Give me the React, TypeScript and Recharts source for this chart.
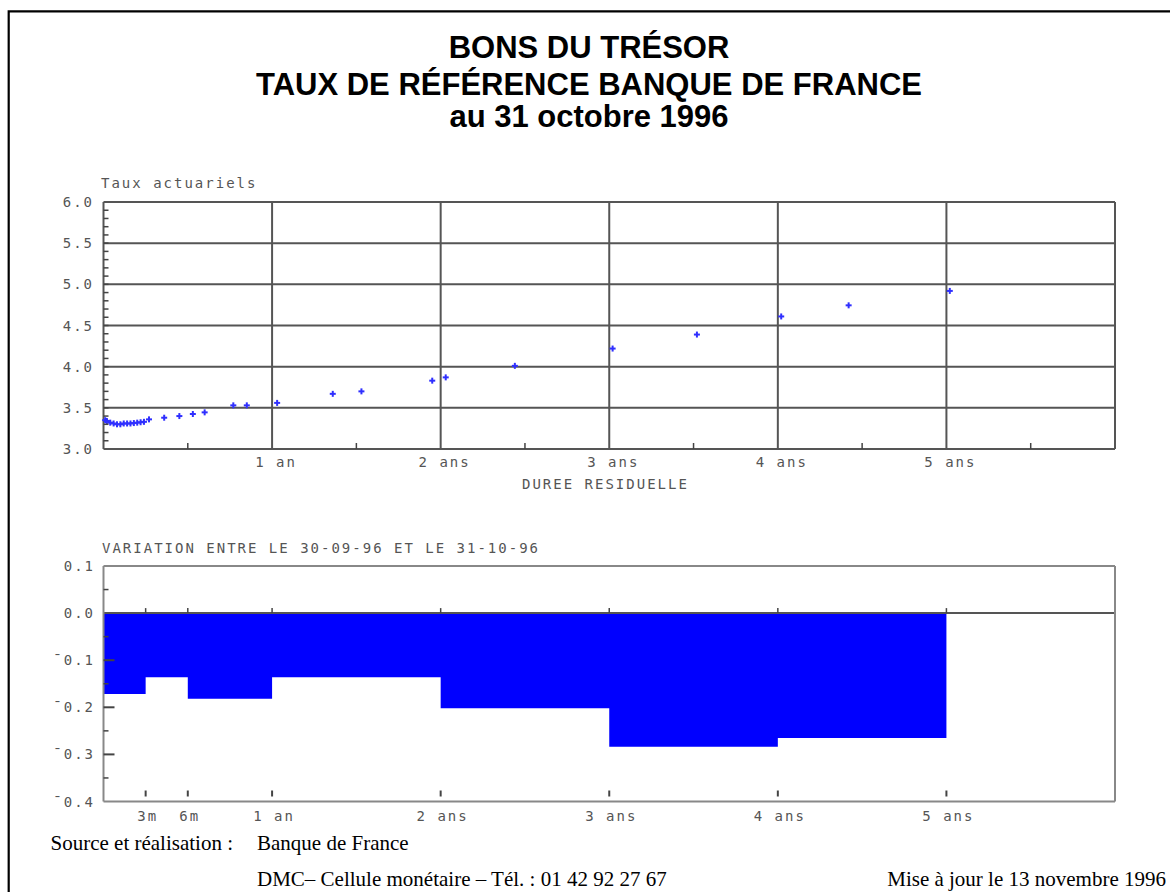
import React from 'react';
import { ScatterChart, Scatter, XAxis, YAxis, ReferenceLine, ComposedChart, Area } from 'recharts';

// ---------- DATA ----------
// Top chart: residual maturity (years) and yield (taux actuariels, %)
const maturities = [0.01, 0.02, 0.04, 0.06, 0.08, 0.10, 0.12, 0.14, 0.16, 0.18, 0.20, 0.22, 0.24, 0.27, 0.36, 0.45, 0.53, 0.60, 0.77, 0.85, 1.03, 1.36, 1.53, 1.95, 2.03, 2.44, 3.02, 3.52, 4.02, 4.42, 5.02];
const rates = [3.35, 3.34, 3.32, 3.31, 3.30, 3.30, 3.31, 3.31, 3.31, 3.315, 3.32, 3.325, 3.33, 3.36, 3.38, 3.40, 3.425, 3.445, 3.53, 3.53, 3.56, 3.67, 3.70, 3.83, 3.87, 4.01, 4.22, 4.39, 4.61, 4.745, 4.92];

// Bottom chart: variation between 30-09-96 and 31-10-96 (step starts, last one closes the step)
const stepStarts = [0, 0.25, 0.5, 1, 2, 3, 4, 5];
const variations = [-0.172, -0.136, -0.182, -0.136, -0.202, -0.284, -0.265, -0.265];

// Tick values / labels
const rateTicks = [3.0, 3.1, 3.2, 3.3, 3.4, 3.5, 3.6, 3.7, 3.8, 3.9, 4.0, 4.1, 4.2, 4.3, 4.4, 4.5, 4.6, 4.7, 4.8, 4.9, 5.0, 5.1, 5.2, 5.3, 5.4, 5.5, 5.6, 5.7, 5.8, 5.9, 6.0];
const rateLabelValues = [3.0, 3.5, 4.0, 4.5, 5.0, 5.5, 6.0];
const rateLabelTexts = ['3.0', '3.5', '4.0', '4.5', '5.0', '5.5', '6.0'];
const rateGrid = [3.5, 4.0, 4.5, 5.0, 5.5];
const rateFrame = [3.0, 6.0];

const yearTicks = [0.5, 1, 1.5, 2, 2.5, 3, 3.5, 4, 4.5, 5, 5.5];
const yearLabelValues = [1, 2, 3, 4, 5];
const yearLabelTexts = ['1 an', '2 ans', '3 ans', '4 ans', '5 ans'];
const yearFrame = [0, 6];

const varTicks = [0.1, 0.05, 0, -0.05, -0.1, -0.15, -0.2, -0.25, -0.3, -0.35, -0.4];
const varLabelValues = [0.1, 0, -0.1, -0.2, -0.3, -0.4];
const varLabelTexts = ['0.1', '0.0', '¯0.1', '¯0.2', '¯0.3', '¯0.4'];
const varMajorTicks = [-0.1, -0.2, -0.3];
const varMinorTicks = [0.05, -0.05, -0.15, -0.25, -0.35];
const varFrame = [0.1, -0.4];

const bottomXTicks = [0.25, 0.5, 1, 2, 3, 4, 5];
const bottomXLabels = ['3m', '6m', '1 an', '2 ans', '3 ans', '4 ans', '5 ans'];

// ---------- LAYOUT ----------
const TOP = { left: 103.5, right: 1115, top: 202, bottom: 449 };
const BOT = { left: 103.5, right: 1115, top: 566, bottom: 801.5 };
const BOT_ZERO = BOT.top + (BOT.bottom - BOT.top) * (0.1 / 0.5);
const AXW = 60;
const AXH = 30;

const monoFont = "'DejaVu Sans Mono', 'Liberation Mono', monospace";
const axisText = { fontFamily: monoFont, fontSize: 14, fill: '#555', letterSpacing: 2 } as const;
const tickColor = '#444';
const gridColor = '#555';
const frameColor = '#888';

const same = (a: number, b: number) => Math.abs(a - b) < 1e-6;
const findIdx = (arr: number[], v: number) => arr.findIndex((a) => same(a, v));

const scatterData = maturities.map((m, i) => ({ x: m, y: rates[i] }));
const stepData = stepStarts.map((s, i) => ({ x: s, v: variations[i] }));

const PlusShape = (p: any) => {
  const { cx, cy } = p;
  if (cx == null || cy == null) return <g />;
  return (
    <g>
      <line x1={cx - 3} y1={cy} x2={cx + 3} y2={cy} stroke="#2f2fff" strokeWidth={2} />
      <line x1={cx} y1={cy - 3} x2={cx} y2={cy + 3} stroke="#2f2fff" strokeWidth={2} />
    </g>
  );
};

const TopYTick = (p: any) => {
  const v = p.payload.value;
  const y = p.payload.coordinate ?? p.y;
  const li = findIdx(rateLabelValues, v);
  const isEdge = same(v, 3) || same(v, 6);
  return (
    <g>
      {!isEdge && <line x1={TOP.left} y1={y} x2={TOP.left + 5} y2={y} stroke={tickColor} strokeWidth={1.5} />}
      {li >= 0 && (
        <text x={94} y={y + 5} textAnchor="end" {...axisText}>
          {rateLabelTexts[li]}
        </text>
      )}
    </g>
  );
};

const TopXTick = (p: any) => {
  const v = p.payload.value;
  const x = p.payload.coordinate ?? p.x;
  const li = findIdx(yearLabelValues, v);
  return (
    <g>
      {li < 0 && <line x1={x} y1={TOP.bottom} x2={x} y2={TOP.bottom - 6} stroke={tickColor} strokeWidth={1.5} />}
      {li >= 0 && (
        <text x={x + 4} y={467} textAnchor="middle" {...axisText}>
          {yearLabelTexts[li]}
        </text>
      )}
    </g>
  );
};

const BotYTick = (p: any) => {
  const v = p.payload.value;
  const y = p.payload.coordinate ?? p.y;
  const li = findIdx(varLabelValues, v);
  const major = findIdx(varMajorTicks, v) >= 0;
  const minor = findIdx(varMinorTicks, v) >= 0;
  return (
    <g>
      {major && <line x1={BOT.left} y1={y} x2={BOT.left + 11} y2={y} stroke={tickColor} strokeWidth={2} />}
      {minor && <line x1={BOT.left} y1={y} x2={BOT.left + 5} y2={y} stroke={tickColor} strokeWidth={1.5} />}
      {li >= 0 && (
        <text x={95} y={y + 5} textAnchor="end" {...axisText}>
          {varLabelTexts[li]}
        </text>
      )}
    </g>
  );
};

const BotXTick = (p: any) => {
  const v = p.payload.value;
  const x = p.payload.coordinate ?? p.x;
  const li = findIdx(bottomXTicks, v);
  return (
    <g>
      <line x1={x} y1={BOT.bottom - 11} x2={x} y2={BOT.bottom - 5} stroke={tickColor} strokeWidth={2} />
      <line x1={x} y1={BOT_ZERO} x2={x} y2={BOT_ZERO - 5} stroke={tickColor} strokeWidth={1.5} />
      {li >= 0 && (
        <text x={x + 2} y={821} textAnchor="middle" {...axisText}>
          {bottomXLabels[li]}
        </text>
      )}
    </g>
  );
};

const botMargin = { top: BOT.top, left: BOT.left - AXW, right: 1170 - BOT.right, bottom: 892 - BOT.bottom - AXH };

export default function App() {
  return (
    <div style={{ position: 'absolute', left: 0, top: 0, width: 1170, height: 892, overflow: 'hidden', background: '#fff' }}>
      <svg width={1170} height={892} style={{ position: 'absolute', left: 0, top: 0 }}>
        <path d="M 8.7 892 L 8.7 11.3 L 1170 11.3" fill="none" stroke="#000" strokeWidth={2.2} />
        <g fontFamily="'Liberation Sans', Arial, sans-serif" fontWeight="bold" fontSize={31} textAnchor="middle" fill="#000">
          <text x={589} y={58}>BONS DU TRÉSOR</text>
          <text x={589} y={95}>TAUX DE RÉFÉRENCE BANQUE DE FRANCE</text>
          <text x={589} y={127}>au 31 octobre 1996</text>
        </g>
        <text x={101} y={188} {...axisText}>Taux actuariels</text>
        <text x={522} y={489} {...axisText}>DUREE RESIDUELLE</text>
        <text x={102} y={553} {...axisText}>VARIATION ENTRE LE 30-09-96 ET LE 31-10-96</text>
        <g fontFamily="'Liberation Serif', 'Times New Roman', serif" fontSize={21} fill="#000">
          <text x={50.5} y={850}>Source et réalisation :</text>
          <text x={257} y={850}>Banque de France</text>
          <text x={257} y={886}>DMC– Cellule monétaire – Tél. : 01 42 92 27 67</text>
          <text x={1166} y={886} textAnchor="end">Mise à jour le 13 novembre 1996</text>
        </g>
      </svg>

      <div style={{ position: 'absolute', left: 0, top: 0 }}>
        <ScatterChart
          width={1170}
          height={500}
          margin={{ top: TOP.top, left: TOP.left - AXW, right: 1170 - TOP.right, bottom: 500 - TOP.bottom - AXH }}
        >
          <XAxis
            type="number"
            dataKey="x"
            domain={[0, 6]}
            ticks={yearTicks}
            interval={0}
            height={AXH}
            axisLine={false}
            tickLine={false}
            tick={(p: any) => <TopXTick {...p} />}
          />
          <YAxis
            type="number"
            dataKey="y"
            domain={[3, 6]}
            ticks={rateTicks}
            interval={0}
            width={AXW}
            axisLine={false}
            tickLine={false}
            tick={(p: any) => <TopYTick {...p} />}
          />
          {rateGrid.map((v) => (
            <ReferenceLine key={'rg' + v} y={v} stroke={gridColor} strokeWidth={2} />
          ))}
          {rateFrame.map((v) => (
            <ReferenceLine key={'rf' + v} y={v} stroke={gridColor} strokeWidth={2} />
          ))}
          {yearLabelValues.map((v) => (
            <ReferenceLine key={'yg' + v} x={v} stroke={gridColor} strokeWidth={2} />
          ))}
          {yearFrame.map((v) => (
            <ReferenceLine key={'yf' + v} x={v} stroke={gridColor} strokeWidth={2} />
          ))}
          <Scatter data={scatterData} shape={PlusShape} isAnimationActive={false} />
        </ScatterChart>
      </div>

      {/* Bottom chart: filled step area */}
      <div style={{ position: 'absolute', left: 0, top: 0 }}>
        <ComposedChart width={1170} height={892} data={stepData} margin={botMargin}>
          <XAxis type="number" dataKey="x" domain={[0, 6]} ticks={bottomXTicks} height={AXH} axisLine={false} tickLine={false} tick={false} />
          <YAxis type="number" dataKey="v" domain={[-0.4, 0.1]} ticks={varTicks} width={AXW} axisLine={false} tickLine={false} tick={false} />
          <Area
            type="stepAfter"
            dataKey="v"
            baseValue={0}
            fill="#0000ff"
            fillOpacity={1}
            stroke="none"
            isAnimationActive={false}
            dot={false}
            activeDot={false}
          />
        </ComposedChart>
      </div>

      {/* Bottom chart: axes, ticks and frame drawn on top of the area */}
      <div style={{ position: 'absolute', left: 0, top: 0 }}>
        <ComposedChart width={1170} height={892} data={stepData} margin={botMargin}>
          <Area
            type="stepAfter"
            dataKey="v"
            baseValue={0}
            fill="none"
            fillOpacity={0}
            stroke="none"
            isAnimationActive={false}
            dot={false}
            activeDot={false}
          />
          <XAxis
            type="number"
            dataKey="x"
            domain={[0, 6]}
            ticks={bottomXTicks}
            interval={0}
            height={AXH}
            axisLine={false}
            tickLine={false}
            tick={(p: any) => <BotXTick {...p} />}
          />
          <YAxis
            type="number"
            dataKey="v"
            domain={[-0.4, 0.1]}
            ticks={varTicks}
            interval={0}
            width={AXW}
            axisLine={false}
            tickLine={false}
            tick={(p: any) => <BotYTick {...p} />}
          />
          <ReferenceLine y={0} stroke={gridColor} strokeWidth={2} />
          {varFrame.map((v) => (
            <ReferenceLine key={'vf' + v} y={v} stroke={frameColor} strokeWidth={2} />
          ))}
          {yearFrame.map((v) => (
            <ReferenceLine key={'bf' + v} x={v} stroke={frameColor} strokeWidth={2} />
          ))}
        </ComposedChart>
      </div>
    </div>
  );
}
